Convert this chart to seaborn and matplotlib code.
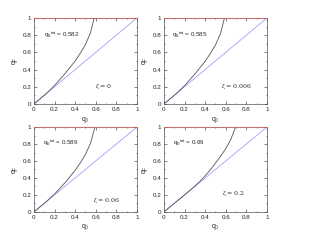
import matplotlib
matplotlib.use("Agg")
import matplotlib.pyplot as plt
from matplotlib.ticker import MultipleLocator
import pandas as pd
import seaborn as sns

sns.set_style("white")
plt.rcParams['font.family'] = ['Liberation Sans', 'DejaVu Sans']
plt.rcParams['mathtext.fontset'] = 'custom'
plt.rcParams['mathtext.rm'] = 'Liberation Sans'
plt.rcParams['mathtext.it'] = 'Liberation Sans'

zetas = ["0", "0.006", "0.06", "0.2"]
q_tot = ["0.582", "0.585", "0.589", "0.69"]

q0_a = [0, 0.1, 0.15, 0.2, 0.3, 0.4, 0.45, 0.5, 0.55, 0.585]
qf_a = [0, 0.1, 0.155, 0.215, 0.35, 0.50, 0.59, 0.69, 0.83, 1.0]

q0_b = [0, 0.1, 0.15, 0.2, 0.3, 0.4, 0.45, 0.5, 0.55, 0.588]
qf_b = [0, 0.1, 0.155, 0.213, 0.347, 0.497, 0.585, 0.685, 0.82, 1.0]

q0_c = [0, 0.1, 0.15, 0.2, 0.3, 0.4, 0.45, 0.5, 0.55, 0.592]
qf_c = [0, 0.1, 0.154, 0.21, 0.342, 0.49, 0.577, 0.677, 0.81, 1.0]

q0_d = [0, 0.1, 0.2, 0.3, 0.35, 0.4, 0.45, 0.5, 0.55, 0.6, 0.65, 0.695]
qf_d = [0, 0.1, 0.2, 0.303, 0.36, 0.425, 0.495, 0.575, 0.655, 0.745, 0.855, 1.0]

curves = [(q0_a, qf_a), (q0_b, qf_b), (q0_c, qf_c), (q0_d, qf_d)]
diag = [0, 1]

zeta_pos = [(0.59, 0.19), (0.55, 0.19), (0.57, 0.12), (0.56, 0.2)]
qtot_pos = [(0.1, 0.78), (0.08, 0.78), (0.09, 0.79), (0.09, 0.79)]

fig = plt.figure(figsize=(3.14, 2.43), dpi=100)
boxes = [[0.108, 0.572, 0.328, 0.354], [0.522, 0.572, 0.328, 0.354],
         [0.108, 0.128, 0.328, 0.349], [0.522, 0.128, 0.328, 0.349]]

for i, box in enumerate(boxes):
    ax = fig.add_axes(box)
    df = pd.DataFrame({"q0": curves[i][0], "qf": curves[i][1]})
    sns.lineplot(x=diag, y=diag, color="#a0a0ff", lw=0.6, ax=ax)
    sns.lineplot(data=df, x="q0", y="qf", color="#555555", lw=0.6, ax=ax)
    ax.axhline(1, color="#ff6666", lw=0.9, ls=(0, (1.5, 1.5)), clip_on=False, zorder=5)
    ax.set_xlim(0, 1)
    ax.set_ylim(0, 1)
    ax.set_xticks([0, 0.2, 0.4, 0.6, 0.8, 1])
    ax.set_yticks([0, 0.2, 0.4, 0.6, 0.8, 1])
    ax.set_xticklabels(["0", "0.2", "0.4", "0.6", "0.8", "1"])
    ax.set_yticklabels(["0", "0.2", "0.4", "0.6", "0.8", "1"])
    ax.xaxis.set_minor_locator(MultipleLocator(0.1))
    ax.yaxis.set_minor_locator(MultipleLocator(0.1))
    ax.tick_params(which="both", direction="in", width=0.4,
                   top=True, right=True, bottom=True, left=True)
    ax.tick_params(which="major", length=2, labelsize=4.5, pad=2)
    ax.tick_params(which="minor", length=1)
    for s in ax.spines.values():
        s.set_linewidth(0.5)
        s.set_color("#555555")
    ax.set_xlabel(r"q$_0$", fontsize=5, labelpad=2)
    ax.set_ylabel(r"q$_F$", fontsize=5, labelpad=2)
    ax.text(zeta_pos[i][0], zeta_pos[i][1], r"$\zeta$ = " + zetas[i], fontsize=4.5,
            family=["DejaVu Serif"])
    ax.text(qtot_pos[i][0], qtot_pos[i][1], r"q$_0$$^{tot}$ = " + q_tot[i], fontsize=4.5)

fig.savefig("out.png", dpi=100)
